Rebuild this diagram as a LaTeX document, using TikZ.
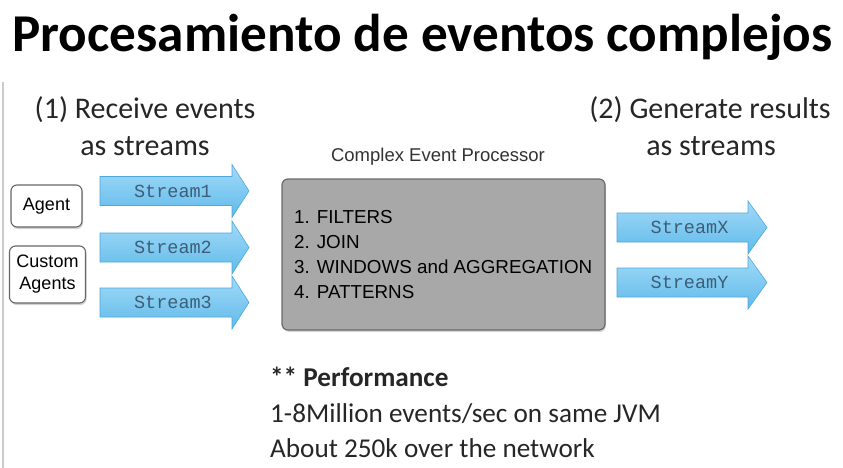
\documentclass[tikz,border=0pt]{standalone}
\usepackage{fontspec}
\setmainfont{Carlito}
\newfontfamily\arialf{Liberation Sans}
\newfontfamily\monof{Liberation Mono}
\usetikzlibrary{shadows}
\definecolor{arrowtop}{HTML}{A2DAF8}
\definecolor{arrowbot}{HTML}{5FBAEA}
\definecolor{arrowborder}{HTML}{4DA8DC}
\definecolor{streamtext}{HTML}{3D5E78}
\definecolor{cepfill}{HTML}{A8A8A8}
\definecolor{cepborder}{HTML}{6A6A6A}
\tikzset{
  streamlabel/.style={inner sep=0, text=streamtext, font=\monof\fontsize{18.5}{20}\selectfont},
  streamshape/.style={top color=arrowtop, bottom color=arrowbot, draw=arrowborder, line width=0.6pt},
  agentbox/.style={draw=black!60, line width=1.1pt, fill=white, rounded corners=6pt,
     drop shadow={opacity=0.35, shadow xshift=1pt, shadow yshift=-2pt}},
  boxtext/.style={font=\arialf\fontsize{18}{22}\selectfont, inner sep=0},
  listtext/.style={font=\arialf\fontsize{18.8}{22}\selectfont, inner sep=0, anchor=base west},
  heading/.style={font=\fontsize{30}{36}\selectfont, inner sep=0, text=black!85},
  perf/.style={font=\fontsize{27.2}{32}\selectfont, inner sep=0, anchor=base west, text=black!85}
}
\newcommand\streamarrow[6]{%
  \shade[streamshape] (#2,#5-14.5) -- (#3,#5-14.5) -- (#3,#5-26.5) -- (#4,#5)
     -- (#3,#5+26.5) -- (#3,#5+14.5) -- (#2,#5+14.5) -- cycle;
  \node[streamlabel] (#1) at ({(#2+#3)/2+7},#5) {#6};}
\begin{document}
\begin{tikzpicture}[x=1pt,y=-1pt]
\useasboundingbox (0,0) rectangle (843,468);
\fill[white] (0,0) rectangle (843,468);
\coordinate (lt) at (3,82);
\coordinate (lb) at (3,468);
\draw[black!20, line width=2pt] (lt) -- (lb);

\node[anchor=base, inner sep=0, font=\bfseries\fontsize{53.2}{60}\selectfont] (title) at (422.5,52) {Procesamiento de eventos complejos};

\node[heading, anchor=base] (in1) at (145,119) {(1) Receive events};
\node[heading, anchor=base] (in2) at (145,156) {as streams};
\node[heading, anchor=base] (out1) at (710,119) {(2) Generate results};
\node[heading, anchor=base] (out2) at (711,156) {as streams};

\node[agentbox, minimum width=71pt, minimum height=42pt] (agent) at (46.5,206) {};
\node[boxtext] (agentt) at (agent.center) {Agent};
\node[agentbox, minimum width=76pt, minimum height=57pt] (custom) at (47.5,274.5) {};
\node[boxtext, align=center] (customt) at (custom.center) {Custom\\Agents};

\streamarrow{s1}{100}{232}{249}{191}{Stream1}
\streamarrow{s2}{100}{232}{249}{247.5}{Stream2}
\streamarrow{s3}{100}{232}{249}{302.5}{Stream3}
\streamarrow{sx}{617}{748}{767}{227.5}{StreamX}
\streamarrow{sy}{617}{748}{767}{282.5}{StreamY}

\node[anchor=base, inner sep=0, font=\arialf\fontsize{18.5}{20}\selectfont, text=black!80] (ceplabel) at (438,161) {Complex Event Processor};
\node[draw=cepborder, fill=cepfill, line width=1.2pt, rounded corners=6pt, minimum width=323pt, minimum height=151pt,
  drop shadow={opacity=0.3, shadow xshift=1pt, shadow yshift=-2pt}] (cep) at (443.5,254.5) {};
\node[listtext] (f1) at (294,223) {1. FILTERS};
\node[listtext] (f2) at (294,248) {2. JOIN};
\node[listtext] (f3) at (294,273) {3. WINDOWS and AGGREGATION};
\node[listtext] (f4) at (294,298) {4. PATTERNS};

\node[perf, font=\bfseries\fontsize{27.2}{32}\selectfont] (p1) at (270,386) {** Performance};
\node[perf] (p2) at (270,422) {1-8Million events/sec on same JVM};
\node[perf] (p3) at (270,457) {About 250k over the network};
\end{tikzpicture}
\end{document}
